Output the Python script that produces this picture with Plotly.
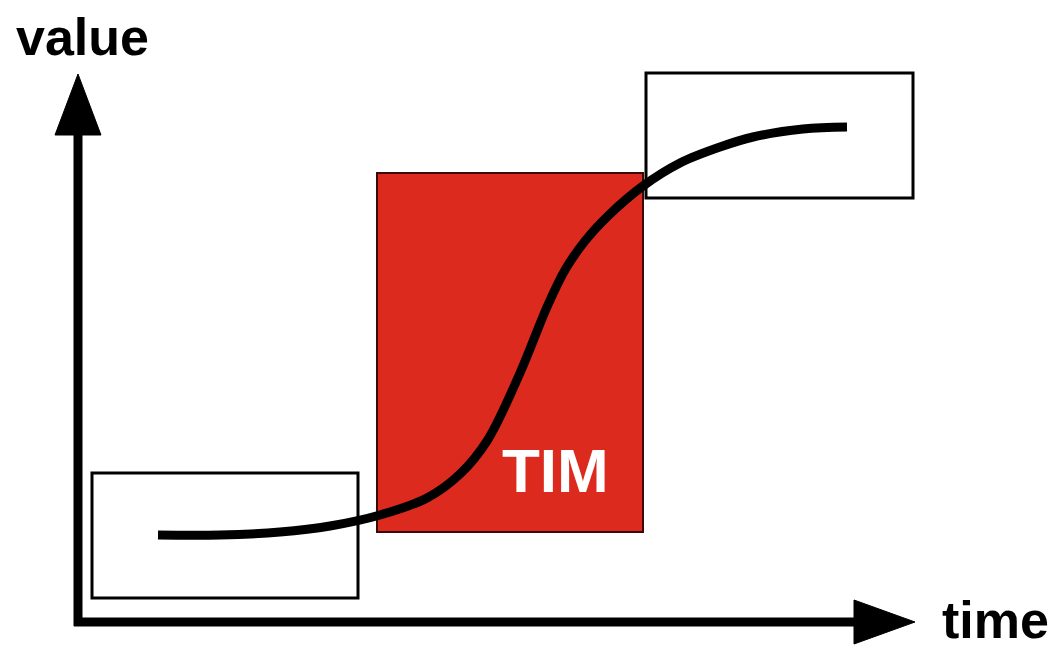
import plotly.graph_objects as go

# curve points (time, value) in picture units (y grows downward)
curve_time = [158, 220, 280, 330, 380, 427, 460, 487, 520, 547, 565, 585, 610, 643, 680, 720, 753, 803, 847]
curve_value = [535, 535, 532, 526, 515, 498, 474, 441, 373, 307, 270, 241, 214, 186, 163, 147, 137, 129, 127]

# boxes: [x0, x1, y0, y1]
box_low = [92, 358, 473, 598]
box_high = [646, 913, 73, 198]
box_tim = [377, 643, 173, 532]

# axes
axis_origin = [78, 622]
axis_x_end = 915
axis_y_end = 74

labels = {"value": (82, 37), "time": (995, 620), "TIM": (555, 470)}
label_sizes = {"value": 52, "time": 52, "TIM": 62}

# page body has an 8px margin: shift the visible window accordingly
OFF = 8
W, H = 1057, 648

fig = go.Figure()

fig.add_trace(go.Scatter(
    x=curve_time, y=curve_value, mode="lines",
    line=dict(color="black", width=9, shape="spline", smoothing=1.0),
    hoverinfo="skip", showlegend=False,
))

shapes = []
shapes.append(dict(type="rect", xref="x", yref="y", layer="below",
                   x0=box_tim[0], x1=box_tim[1], y0=box_tim[2], y1=box_tim[3],
                   fillcolor="#dc2b1e", line=dict(color="#3a0a06", width=2)))
for b in (box_low, box_high):
    shapes.append(dict(type="rect", xref="x", yref="y", layer="below",
                       x0=b[0], x1=b[1], y0=b[2], y1=b[3],
                       fillcolor="rgba(0,0,0,0)", line=dict(color="black", width=3)))

ox, oy = axis_origin
shapes.append(dict(type="line", xref="x", yref="y", x0=ox, y0=oy + 4, x1=ox, y1=axis_y_end + 50,
                   line=dict(color="black", width=9)))
shapes.append(dict(type="line", xref="x", yref="y", x0=ox - 4, y0=oy, x1=axis_x_end - 50, y1=oy,
                   line=dict(color="black", width=9)))
shapes.append(dict(type="path", xref="x", yref="y",
                   path=f"M {ox-23},{axis_y_end+61} L {ox},{axis_y_end} L {ox+23},{axis_y_end+61} Z",
                   fillcolor="black", line=dict(color="black", width=1)))
shapes.append(dict(type="path", xref="x", yref="y",
                   path=f"M {axis_x_end-61},{oy-22} L {axis_x_end},{oy} L {axis_x_end-61},{oy+22} Z",
                   fillcolor="black", line=dict(color="black", width=1)))

annotations = []
for txt, (lx, ly) in labels.items():
    annotations.append(dict(
        x=lx, y=ly, xref="x", yref="y", text=f"<b>{txt}</b>", showarrow=False,
        xanchor="center", yanchor="middle",
        font=dict(family="Liberation Sans, Arial, sans-serif",
                  size=label_sizes[txt],
                  color="white" if txt == "TIM" else "black"),
    ))

fig.update_layout(
    width=W - OFF, height=H - OFF,
    margin=dict(l=0, r=0, t=0, b=0),
    paper_bgcolor="white", plot_bgcolor="white",
    xaxis=dict(range=[OFF, W], visible=False, fixedrange=True),
    yaxis=dict(range=[H, OFF], visible=False, fixedrange=True),
    shapes=shapes, annotations=annotations, showlegend=False,
)

fig.write_html("out.html")
